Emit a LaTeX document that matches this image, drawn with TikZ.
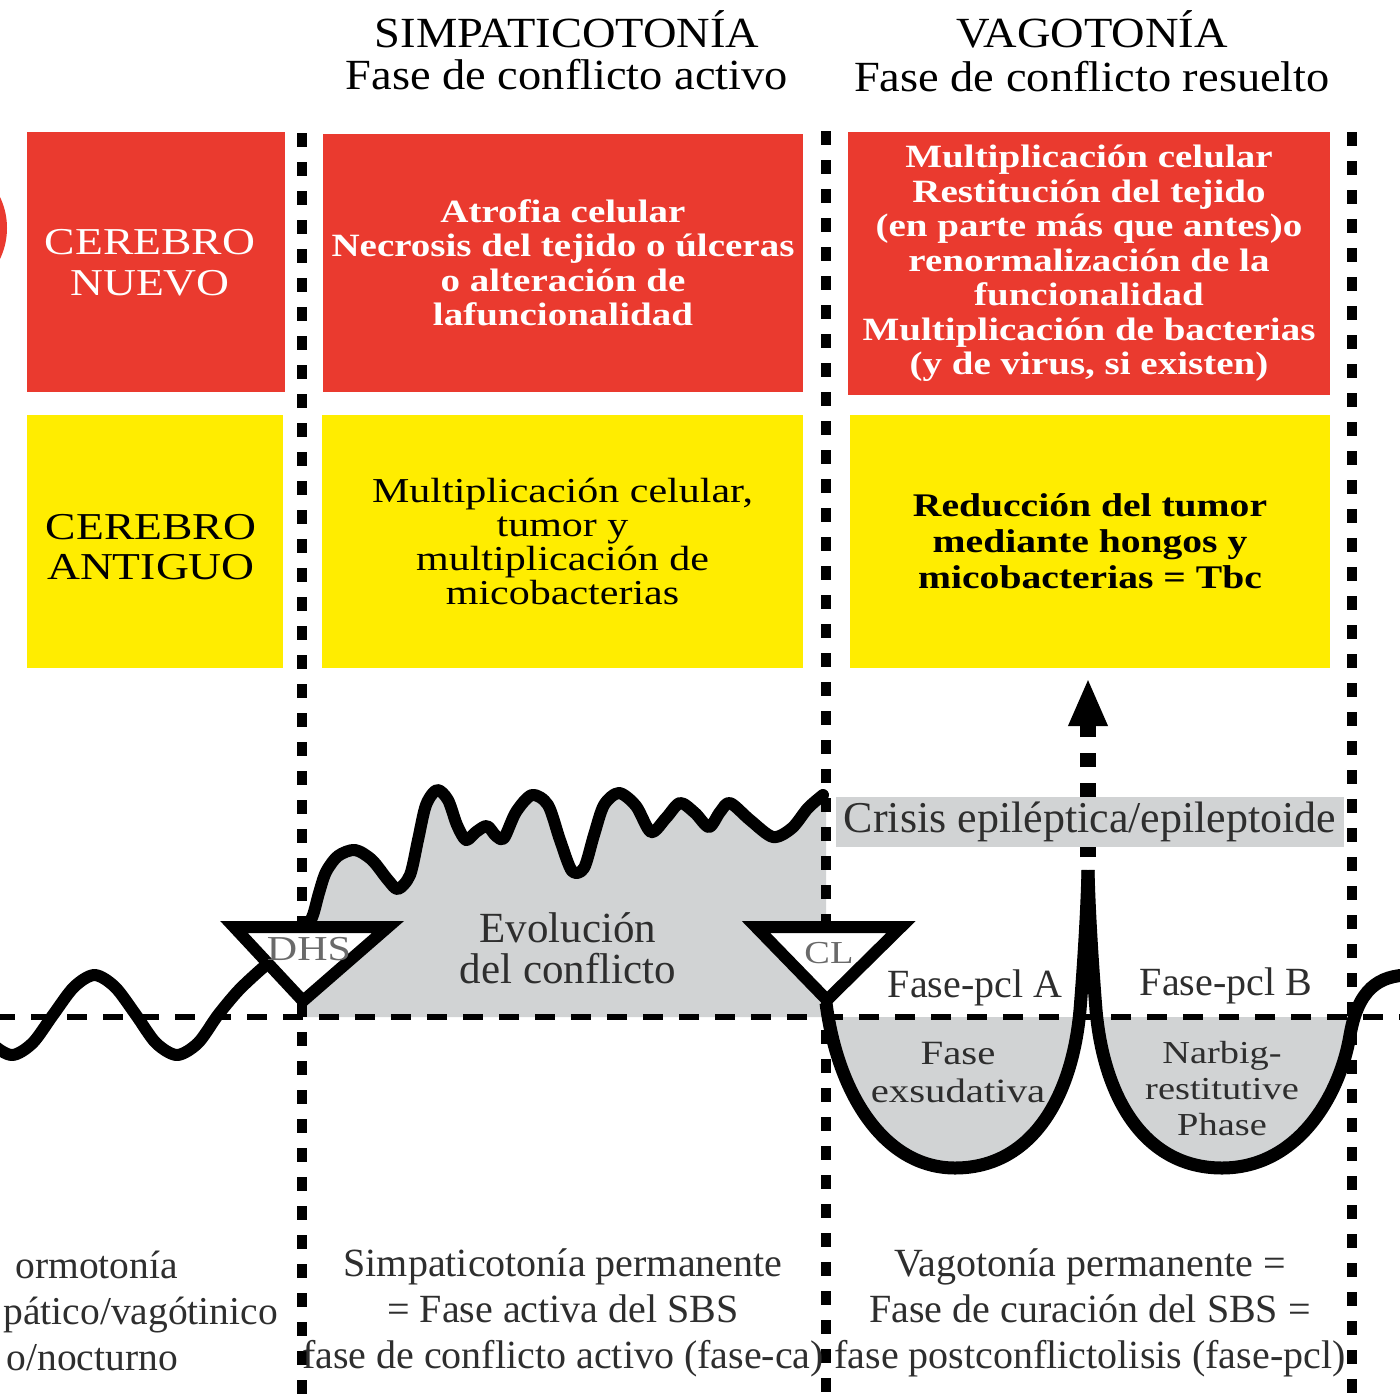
\documentclass[tikz,border=0pt]{standalone}
\usepackage{fontspec}
\setmainfont{Liberation Serif}
\newfontfamily\wf[FakeStretch=1.2]{Liberation Serif}
\newfontfamily\hf[FakeStretch=1.08]{Liberation Serif}
\usetikzlibrary{arrows.meta}
\definecolor{myred}{HTML}{EA3A2F}
\definecolor{myyellow}{HTML}{FFED00}
\definecolor{mygray}{HTML}{D1D3D4}
\definecolor{txtgray}{HTML}{2E2E2E}
\definecolor{trigray}{HTML}{6A6A6A}
\begin{document}
\begin{tikzpicture}[x=1pt,y=-1pt,
  box/.style={inner sep=0pt, align=center},
  redbox/.style={box, fill=myred, text=white},
  yelbox/.style={box, fill=myyellow, text=black},
  vline/.style={line width=10pt, dash pattern=on 14pt off 15pt},
  baseln/.style={line width=6pt, dash pattern=on 20pt off 16pt},
  curve/.style={line width=12pt, line join=round, line cap=round},
  ucurve/.style={line width=13pt, line join=round, line cap=butt},
  tri/.style={draw, line width=12pt, fill=white, line join=miter},
  lbl/.style={inner sep=0pt, align=center, text=txtgray},
  hdr/.style={inner sep=0pt, text=black, font=\hf\fontsize{43}{48}\selectfont},
]
\useasboundingbox (0,0) rectangle (1400,1400);
\clip (0,0) rectangle (1400,1400);
\fill[white] (0,0) rectangle (1400,1400);

% partial red disc at the left edge
\fill[myred] (-65,228) circle[radius=72pt];

% boxes
\node[redbox, minimum width=258pt, minimum height=260pt] (rb1) at (156,262) {};
\node[inner sep=0pt, align=center, text=white, font=\wf\fontsize{38}{41}\selectfont] (rb1t) at (150,263) {CEREBRO\\NUEVO};
\node[redbox, minimum width=480pt, minimum height=258pt, font=\wf\bfseries\fontsize{32.5}{34.5}\selectfont] (rb2) at (563,263) {Atrofia celular\\Necrosis del tejido o úlceras\\o alteración de\\lafuncionalidad};
\node[redbox, minimum width=482pt, minimum height=263pt, font=\wf\bfseries\fontsize{32.5}{34.5}\selectfont] (rb3) at (1089,263.5) {Multiplicación celular\\Restitución del tejido\\(en parte más que antes)o\\renormalización de la\\funcionalidad\\Multiplicación de bacterias\\(y de virus, si existen)};
\node[yelbox, minimum width=256pt, minimum height=253pt] (yb1) at (155,541.5) {};
\node[inner sep=0pt, align=center, text=black, font=\wf\fontsize{38}{40}\selectfont] (yb1t) at (151,547) {CEREBRO\\ANTIGUO};
\node[yelbox, minimum width=481pt, minimum height=253pt, font=\wf\fontsize{35}{34}\selectfont] (yb2) at (562.5,541.5) {Multiplicación celular,\\tumor y\\multiplicación de\\micobacterias};
\node[yelbox, minimum width=480pt, minimum height=253pt, font=\wf\bfseries\fontsize{33}{36}\selectfont] (yb3) at (1090,541.5) {Reducción del tumor\\mediante hongos y\\micobacterias = Tbc};

% gray area under the conflict curve
\fill[mygray] (302,1017) -- (302,935) -- plot[smooth] coordinates {(313,915) (319,893) (326,872) (338,856) (355,850) (372,860) (388,880) (398,889) (410,875) (418,840) (426,805) (437,790) (448,800) (457,825) (466,840) (476,832) (487,826) (496,836) (504,838) (516,812) (532,795) (548,805) (560,840) (572,871) (584,868) (594,835) (604,805) (619,793) (636,806) (651,832) (666,818) (680,803) (695,813) (709,827) (720,812) (730,803) (750,820) (773,837) (792,828) (808,808) (823,795)} -- (826,795) -- (826,1017) -- cycle;

% gray areas in the two healing troughs
\fill[mygray] (828,1017) .. controls (838,1095) and (885,1168) .. (955,1168) .. controls (1030,1168) and (1074,1095) .. (1081,1017) -- cycle;
\fill[mygray] (1095,1017) .. controls (1102,1095) and (1146,1168) .. (1222,1168) .. controls (1298,1168) and (1343,1095) .. (1351,1017) -- cycle;

% arrow of the epileptic crisis
\coordinate (spike) at (1088,870);
\coordinate (arrtip) at (1088,678);
\draw[line width=16pt, dash pattern=on 14pt off 16pt, dash phase=17pt, -{Triangle[length=48pt,width=36pt]}] (spike) -- (arrtip);

% crisis bar
\node[fill=mygray, minimum width=508pt, minimum height=50pt, inner sep=0pt, text=txtgray, font=\fontsize{44}{44}\selectfont] (crisis) at (1090,822) {Crisis epiléptica/epileptoide};

% base line
\coordinate (base-l) at (-5,1017);
\coordinate (base-r) at (1405,1017);
\draw[baseln] (base-l) -- (base-r);

% vertical dotted separators
\coordinate (v1t) at (302,133); \coordinate (v1b) at (302,1405);
\coordinate (v2t) at (826,131); \coordinate (v2b) at (826,1405);
\coordinate (v3t) at (1352,132); \coordinate (v3b) at (1352,1405);
\draw[vline] (v1t) -- (v1b);
\draw[vline] (v2t) -- (v2b);
\draw[vline] (v3t) -- (v3b);

% normotonia and conflict curve
\draw[curve] plot[smooth] coordinates {(-29,1015) (-8.6,1043) (12,1055) (32.6,1043) (53,1015) (74,987) (94.5,975) (115,987) (136,1015) (156,1043) (177,1055) (198,1043) (218,1015) (238,991) (258,972) (278,955) (296,940) (306,929) (313,915) (319,893) (326,872) (338,856) (355,850) (372,860) (388,880) (398,889) (410,875) (418,840) (426,805) (437,790) (448,800) (457,825) (466,840) (476,832) (487,826) (496,836) (504,838) (516,812) (532,795) (548,805) (560,840) (572,871) (584,868) (594,835) (604,805) (619,793) (636,806) (651,832) (666,818) (680,803) (695,813) (709,827) (720,812) (730,803) (750,820) (773,837) (792,828) (808,808) (823,795)};

% healing phase curve
\coordinate (clap) at (826,1003);
\coordinate (rend) at (1410,975);
\draw[ucurve] (clap) .. controls (838,1095) and (885,1168) .. (955,1168) .. controls (1030,1168) and (1072,1100) .. (1080,1010) .. controls (1084,960) and (1087,910) .. (spike);
\draw[ucurve] (spike) .. controls (1089,910) and (1092,960) .. (1096,1010) .. controls (1104,1100) and (1146,1168) .. (1222,1168) .. controls (1298,1168) and (1340,1095) .. (1350,1035) .. controls (1358,990) and (1378,975) .. (rend);

% DHS and CL triangles
\draw[tri] (234,927) -- (388,927) -- (303,1001) -- cycle;
\draw[tri] (756,927) -- (901,927) -- (827,1000) -- cycle;
\node[inner sep=0pt, text=trigray, font=\wf\fontsize{35}{35}\selectfont] (dhs) at (309,949) {DHS};
\node[inner sep=0pt, text=trigray, font=\wf\fontsize{32}{32}\selectfont] (cl) at (829,953) {CL};

% headers
\node[hdr, anchor=base] (h1) at (567,47) {SIMPATICOTONÍA};
\node[hdr, anchor=base] (h2) at (567,89) {Fase de conflicto activo};
\node[hdr, anchor=base] (h3) at (1092,47) {VAGOTONÍA};
\node[hdr, anchor=base] (h4) at (1092,91) {Fase de conflicto resuelto};

% labels in the curve area
\node[lbl, font=\fontsize{43}{41}\selectfont] (evo) at (568,948) {Evolución\\del conflicto};
\node[lbl, font=\fontsize{40}{40}\selectfont] (pa) at (975,988) {Fase-pcl A};
\node[lbl, font=\fontsize{40}{40}\selectfont] (pb) at (1226,986) {Fase-pcl B};
\node[lbl, font=\wf\fontsize{34}{38}\selectfont] (fe) at (958,1073) {Fase\\exsudativa};
\node[lbl, font=\wf\fontsize{32}{36}\selectfont] (nr) at (1222,1089) {Narbig-\\restitutive\\Phase};

% bottom texts
\node[lbl, font=\fontsize{40}{46}\selectfont] (bm) at (563,1313) {Simpaticotonía permanente\\= Fase activa del SBS\\fase de conflicto activo (fase-ca)};
\node[lbl, font=\fontsize{40}{46}\selectfont] (br) at (1090,1313) {Vagotonía permanente =\\Fase de curación del SBS =\\fase postconflictolisis (fase-pcl)};
\node[lbl, anchor=base east, font=\fontsize{39.5}{46}\selectfont] (bl1) at (178,1278) {ormotonía};
\node[lbl, anchor=base east, font=\fontsize{39.5}{46}\selectfont] (bl2) at (278,1324) {pático/vagótinico};
\node[lbl, anchor=base east, font=\fontsize{39.5}{46}\selectfont] (bl3) at (178,1370) {o/nocturno};
\end{tikzpicture}
\end{document}
